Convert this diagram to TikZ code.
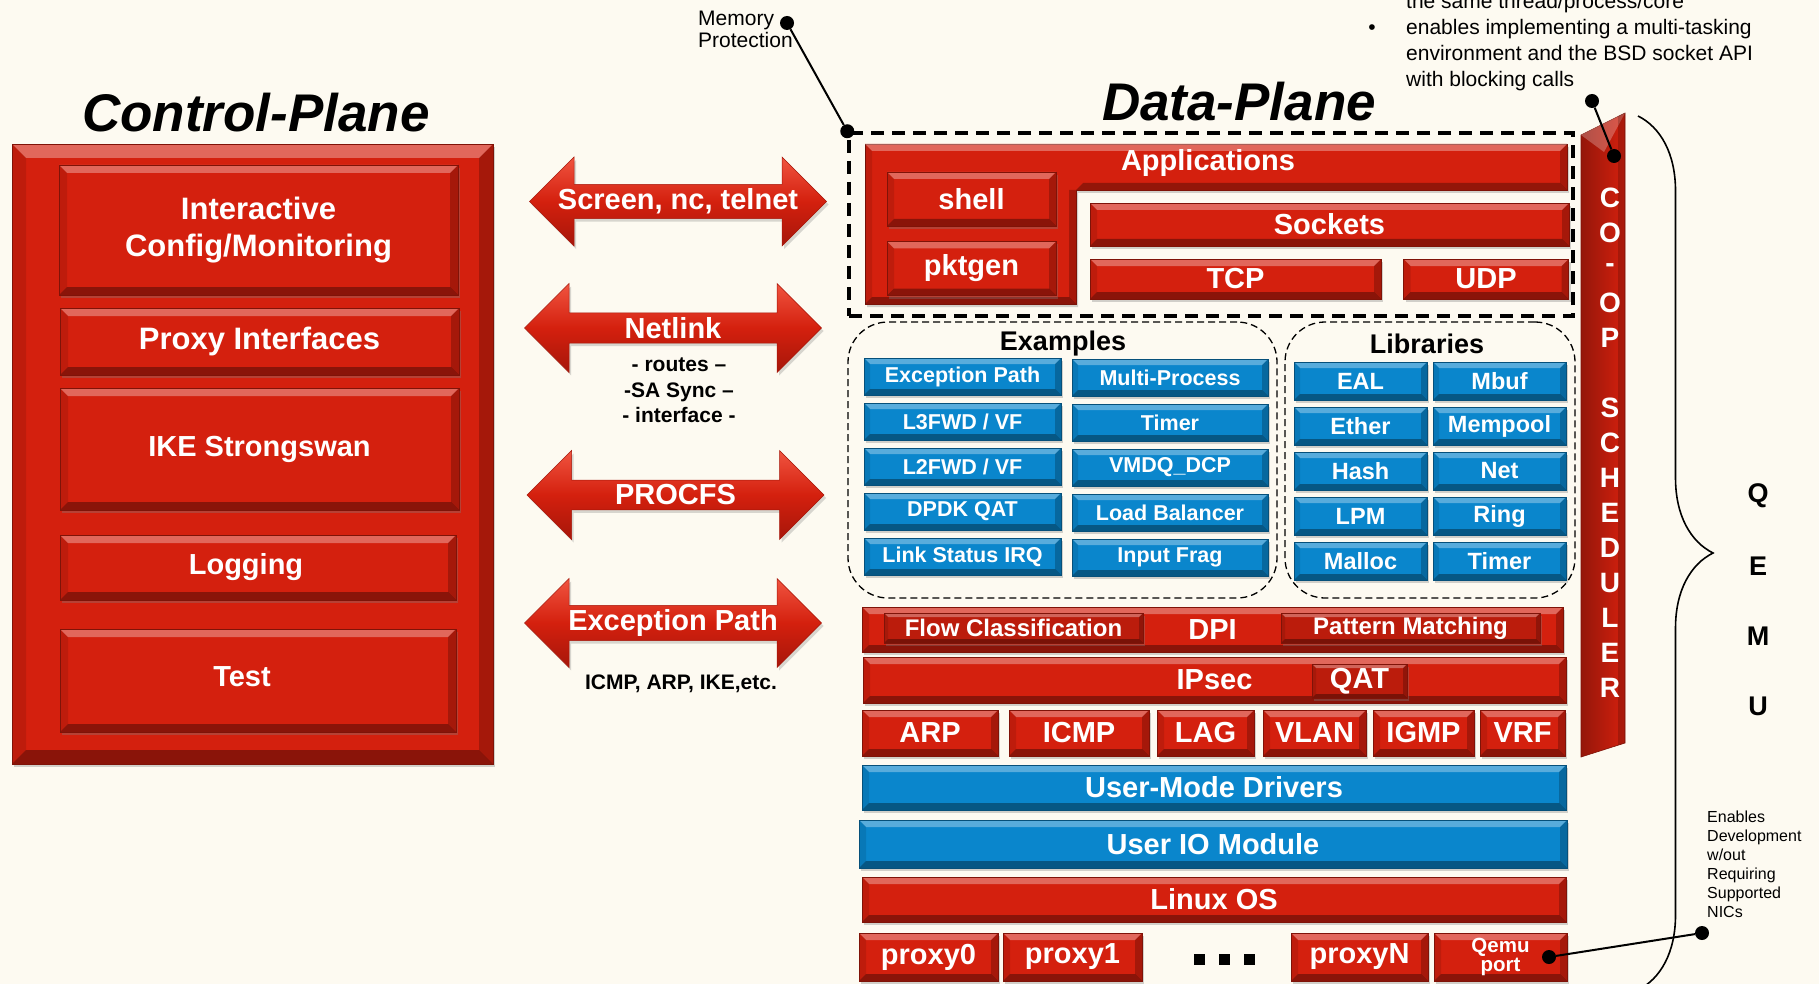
\documentclass[tikz,border=0pt]{standalone}
\usepackage{fontspec}
\setmainfont{Liberation Sans}
\usepackage{tikz}
\usetikzlibrary{positioning,shapes.arrows,shadows,decorations.pathreplacing}

\definecolor{bgcream}{RGB}{253,250,241}
\definecolor{dpred}{RGB}{212,32,14}
\definecolor{dpblue}{RGB}{10,134,204}
\definecolor{arrtop}{RGB}{240,84,64}
\definecolor{arrbot}{RGB}{166,22,10}

\tikzset{
  bevel/.style={path picture={
    \coordinate (bnw) at (path picture bounding box.north west);
    \coordinate (bne) at (path picture bounding box.north east);
    \coordinate (bsw) at (path picture bounding box.south west);
    \coordinate (bse) at (path picture bounding box.south east);
    \fill[white,opacity=.32] (bnw) -- (bne) -- ([shift={(-#1,-#1)}]bne) -- ([shift={(#1,-#1)}]bnw) -- cycle;
    \fill[black,opacity=.35] (bsw) -- (bse) -- ([shift={(-#1,#1)}]bse) -- ([shift={(#1,#1)}]bsw) -- cycle;
    \fill[black,opacity=.10] (bnw) -- ([shift={(#1,-#1)}]bnw) -- ([shift={(#1,#1)}]bsw) -- (bsw) -- cycle;
    \fill[black,opacity=.22] (bne) -- ([shift={(-#1,-#1)}]bne) -- ([shift={(-#1,#1)}]bse) -- (bse) -- cycle;
  }},
  bevel/.default=7pt,
  redblk/.style={draw=dpred!60!black, line width=.6pt, fill=dpred, text=white, inner sep=0pt, bevel=#1,
    drop shadow={opacity=.35, shadow xshift=2pt, shadow yshift=-3pt}},
  redblk/.default=7pt,
  blueblk/.style={draw=dpblue!60!black, line width=.6pt, fill=dpblue, text=white, inner sep=0pt, bevel=#1,
    drop shadow={opacity=.35, shadow xshift=2pt, shadow yshift=-3pt}},
  blueblk/.default=6pt,
  subblk/.style={redblk=4pt, fill=dpred!88!black},
  dblarrow/.style={double arrow, double arrow head extend=21pt, minimum width=89pt, minimum height=297pt,
    inner sep=0pt, draw=arrbot, line width=.5pt, top color=arrtop, bottom color=arrbot, middle color=dpred,
    text=white, font=\bfseries\fontsize{29}{34}\selectfont,
    drop shadow={opacity=.3, shadow xshift=2pt, shadow yshift=-3pt}},
  dotmark/.style={circle, fill=black, minimum size=14pt, inner sep=0pt},
  plane/.style={font=\bfseries\itshape\fontsize{53}{60}\selectfont, anchor=base, inner sep=0pt},
  lbl/.style={font=\bfseries\fontsize{29}{34}\selectfont},
  exitem/.style={blueblk, minimum width=197pt, minimum height=37pt, font=\bfseries\fontsize{21.5}{24}\selectfont},
  libitem/.style={blueblk, minimum width=133pt, minimum height=38pt, font=\bfseries\fontsize{23.5}{26}\selectfont},
  thindash/.style={draw, line width=1.3pt, dash pattern=on 7pt off 4pt, rounded corners=40pt, inner sep=0pt},
  note/.style={font=\fontsize{21}{26}\selectfont, inner sep=0pt, align=left},
  letter/.style={font=\bfseries\fontsize{28}{30}\selectfont, inner sep=0pt},
}

\begin{document}
\begin{tikzpicture}[x=1pt,y=-1pt]

% canvas (pixel grid, y downwards)
\useasboundingbox (0,0) rectangle (1819,984);
\clip (0,0) rectangle (1819,984);
\fill[bgcream] (0,0) rectangle (1819,984);

% CONTROL PLANE
\node[plane] (cptitle) at (256,131.5) {Control-Plane};
\node[redblk=14pt, minimum width=481pt, minimum height=620pt] (cpbox) at (252.5,454) {};
\node[redblk=8pt, minimum width=399pt, minimum height=130pt, align=center,
      font=\bfseries\fontsize{31}{37}\selectfont] (interact) at (258.5,230) {Interactive\\Config/Monitoring};
\node[redblk=8pt, minimum width=399pt, minimum height=67pt,
      font=\bfseries\fontsize{31}{37}\selectfont] (proxyif) at (259.5,341.5) {Proxy Interfaces};
\node[redblk=8pt, minimum width=399pt, minimum height=122pt, lbl] (ike) at (259.5,449) {IKE Strongswan};
\node[redblk=8pt, minimum width=396pt, minimum height=65pt, lbl] (logging) at (258,567.5) {\hspace*{-24pt}Logging};
\node[redblk=8pt, minimum width=396pt, minimum height=103pt, lbl] (test) at (258,680.5) {\hspace*{-32pt}\raisebox{7pt}{Test}};

% INTERFACES between the planes
\node[dblarrow] (screen) at (678,201.5) {Screen, nc, telnet};
\node[dblarrow] (netlink) at (673,328) {Netlink};
\node[dblarrow] (procfs) at (675.5,495) {PROCFS};
\node[dblarrow] (excpath) at (673,623) {Exception Path};
\node[align=center, font=\bfseries\fontsize{21}{25.5}\selectfont, anchor=north, inner sep=0pt]
      (nlnote) at (679,358) {- routes –\\-SA Sync –\\- interface -};
\node[font=\bfseries\fontsize{21}{24}\selectfont] (icmpnote) at (681,684) {ICMP, ARP, IKE,etc.};

% DATA PLANE
\node[plane] (dptitle) at (1239,121) {Data-Plane};
\node[draw, line width=3.5pt, dash pattern=on 13pt off 8pt, minimum width=724pt, minimum height=183pt,
      inner sep=0pt] (memprot) at (1211,224.5) {};

% Applications (L-shaped block)
\path[fill=dpred, draw=dpred!60!black, line width=.6pt,
      drop shadow={opacity=.35, shadow xshift=2pt, shadow yshift=-3pt}]
  (865,144) -- (1567,144) -- (1567,190) -- (1076,190) -- (1076,304) -- (865,304) -- cycle;
\fill[white,opacity=.32] (865,144) -- (1567,144) -- (1560,151) -- (872,151) -- cycle;
\fill[black,opacity=.3] (1076,190) -- (1567,190) -- (1560,183) -- (1083,183) -- cycle;
\fill[black,opacity=.35] (865,304) -- (1076,304) -- (1069,297) -- (872,297) -- cycle;
\fill[black,opacity=.22] (1567,144) -- (1567,190) -- (1560,183) -- (1560,151) -- cycle;
\fill[black,opacity=.22] (1076,190) -- (1076,304) -- (1069,297) -- (1069,190) -- cycle;
\fill[black,opacity=.10] (865,144) -- (872,151) -- (872,297) -- (865,304) -- cycle;
\node[lbl, text=white] (apps) at (1208,163) {Applications};
\node[redblk, minimum width=169pt, minimum height=54pt, lbl] (shell) at (971.5,199) {shell};
\node[redblk, minimum width=169pt, minimum height=54pt, lbl] (pktgen) at (971.5,268.5) {pktgen};
\node[redblk, minimum width=479pt, minimum height=43pt, lbl] (sockets) at (1329.5,224.5) {Sockets};
\node[redblk, minimum width=291pt, minimum height=40pt, lbl] (tcp) at (1235.5,279) {TCP};
\node[redblk, minimum width=165pt, minimum height=40pt, lbl] (udp) at (1486,279) {UDP};

% Examples and Libraries
\node[thindash, minimum width=429pt, minimum height=276pt] (exbox) at (1062.5,460) {};
\node[thindash, minimum width=290pt, minimum height=276pt] (libbox) at (1430,460) {};
\node[font=\bfseries\fontsize{27}{30}\selectfont, anchor=base] (extitle) at (1063,350) {Examples};
\node[font=\bfseries\fontsize{27}{30}\selectfont, anchor=base] (libtitle) at (1427,353) {Libraries};
\foreach \lbl [count=\k from 0] in {Exception Path, L3FWD / VF, L2FWD / VF, DPDK QAT, Link Status IRQ}
  \node[exitem] (exL\k) at (962.5,376.5+45*\k) {\lbl};
\foreach \lbl [count=\k from 0] in {Multi-Process, Timer, VMDQ\_DCP, Load Balancer, Input Frag}
  \node[exitem, minimum width=196pt] (exR\k) at (1170,377.5+45*\k) {\lbl};
\foreach \lbl [count=\k from 0] in {EAL, Ether, Hash, LPM, Malloc}
  \node[libitem] (libL\k) at (1360.5,381+45*\k) {\lbl};
\foreach \lbl [count=\k from 0] in {Mbuf, Mempool, Net, Ring, Timer}
  \node[libitem] (libR\k) at (1499.5,381+45*\k) {\lbl};

% Packet processing stack
\node[redblk, minimum width=701pt, minimum height=45pt, lbl] (dpi) at (1212.5,629.5) {DPI};
\node[subblk, minimum width=259pt, minimum height=30pt, font=\bfseries\fontsize{24}{26}\selectfont]
      (flowcls) at (1013.5,628) {Flow Classification};
\node[subblk, minimum width=259pt, minimum height=30pt, font=\bfseries\fontsize{24}{26}\selectfont]
      (pattern) at (1410.5,628) {Pattern Matching};
\node[redblk, minimum width=703pt, minimum height=46pt, lbl] (ipsec) at (1214.5,680) {IPsec};
\node[subblk, minimum width=95pt, minimum height=34pt, lbl] (qat) at (1359.5,681) {QAT};
\foreach \lbl/\cx/\w [count=\k] in {ARP/930/136pt, ICMP/1079/140pt, LAG/1205.5/97pt,
                                    VLAN/1314.5/103pt, IGMP/1423.5/101pt, VRF/1522.5/85pt}
  \node[redblk, minimum width=\w, minimum height=46pt, lbl] (proto\k) at (\cx,733) {\lbl};
\node[blueblk=7pt, minimum width=704pt, minimum height=45pt, lbl] (umd) at (1214,787.5) {User-Mode Drivers};
\node[blueblk=7pt, minimum width=708pt, minimum height=48pt, lbl] (uio) at (1213,844) {User IO Module};
\node[redblk, minimum width=704pt, minimum height=45pt, lbl] (linux) at (1214,899.5) {Linux OS};

% Ports
\node[redblk, minimum width=139pt, minimum height=48pt, lbl] (proxy0) at (928.5,957) {proxy0};
\node[redblk, minimum width=139pt, minimum height=48pt, lbl] (proxy1) at (1072.5,957) {proxy1};
\foreach \k in {0,1,2}
  \node[fill=black, minimum size=11pt, inner sep=0pt] (ell\k) at (1199+25*\k,959) {};
\node[redblk, minimum width=137pt, minimum height=48pt, lbl] (proxyN) at (1359.5,957) {proxyN};
\node[redblk, minimum width=133pt, minimum height=48pt, align=center,
      font=\bfseries\fontsize{20.5}{19.5}\selectfont] (qport) at (1500.5,957) {Qemu\\port};

% Co-op scheduler
\shade[left color=dpred!70!black, right color=dpred, draw=dpred!60!black, line width=.6pt]
  (1581,135) -- (1625,113) -- (1625,743) -- (1581,757) -- cycle;
\fill[white,opacity=.25] (1581,135) -- (1625,113) -- (1604,152) -- cycle;
\fill[black,opacity=.18] (1618,116) -- (1625,113) -- (1625,743) -- (1618,745) -- cycle;
\foreach \ch/\k in {C/0,O/1,-/2,O/3,P/4,S/6,C/7,H/8,E/9,D/10,U/11,L/12,E/13,R/14}
  \node[letter, text=white] (coop\k) at (1610,198+35*\k) {\ch};

% QEMU brace
\coordinate (qtop) at (1638,116);
\coordinate (qbot) at (1638,990);
\draw[line width=1.6pt, decorate, decoration={brace, amplitude=75pt}] (qtop) -- (qbot);
\foreach \ch/\k in {Q/0,E/1,M/2,U/3}
  \node[letter, font=\bfseries\fontsize{27}{30}\selectfont] (qemu\k) at (1758,496+70*\k) {\ch};

% Callouts
\node[note, font=\fontsize{21}{22}\selectfont, anchor=north west] (memnote) at (698,11) {Memory\\Protection};
\node[dotmark] (memdotA) at (787,23) {};
\node[dotmark] (memdotB) at (memprot.north west) {};
\draw[line width=2pt] (memdotA) -- (memdotB);

\node[note, anchor=north west] (coopnote) at (1406,-7.3)
  {the same thread/process/core\\enables implementing a multi-tasking\\environment and the BSD socket API\\with blocking calls};
\node[font=\fontsize{21}{26}\selectfont, anchor=base, inner sep=0pt] (bullet) at (1372,35) {•};
\node[dotmark] (coopdotA) at (1592,101) {};
\node[dotmark] (coopdotB) at (1614,156) {};
\draw[line width=2pt] (coopdotA) -- (coopdotB);

\node[note, font=\fontsize{16}{19}\selectfont, anchor=north west] (nicnote) at (1707,810.5)
  {Enables\\Development\\w/out\\Requiring\\Supported\\NICs};
\node[dotmark] (nicdot) at (1702,933) {};
\node[dotmark] (qportdot) at (1549,957) {};
\draw[line width=2pt] (qportdot) -- (nicdot);

\end{tikzpicture}
\end{document}
